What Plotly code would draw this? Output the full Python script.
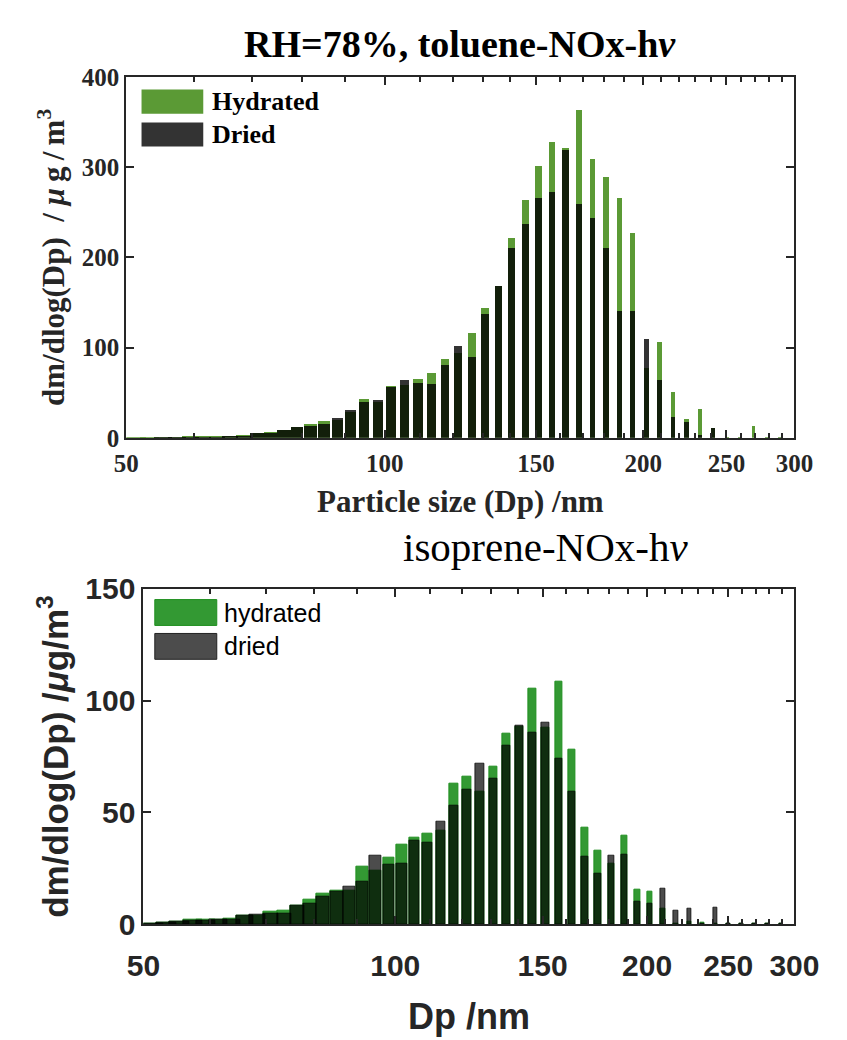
import plotly.graph_objects as go

# ---------------- data ----------------
diam_nm = [51.4, 53.3, 55.2, 57.3, 59.4, 61.5, 63.8, 66.1, 68.5, 71.0, 73.7, 76.4, 79.1,
           82.0, 85.1, 88.2, 91.4, 94.7, 98.2, 101.8, 105.5, 109.4, 113.4, 117.6, 121.9,
           126.3, 131.0, 135.8, 140.7, 145.9, 151.2, 156.8, 162.5, 168.5, 174.7, 181.1,
           187.7, 194.6, 201.7, 209.1, 216.7, 224.7, 232.9, 241.4, 250.3, 259.5, 269.0,
           278.8, 289.0]

tol_hydrated = [0.2, 0.3, 0.4, 0.6, 1.1, 1.1, 1.1, 2.1, 3.2, 5.4, 6.4, 8.6, 11.8,
                15.0, 18.2, 19.3, 29.0, 42.9, 39.7, 57.9, 59.0, 65.4, 71.8, 87.6, 94.4,
                115.8, 143.7, 168.4, 222.0, 263.8, 301.3, 328.2, 321.8, 363.5, 308.8, 289.5,
                266.0, 227.3, 77.2, 106.2, 50.4, 21.4, 32.2, 10.5, 0.3, 0.3, 12.9,
                0.3, 0.3]
tol_dried = [0.2, 0.3, 0.4, 0.6, 1.1, 1.1, 1.1, 2.1, 2.1, 5.4, 5.4, 8.6, 11.8,
             12.9, 15.0, 22.5, 31.1, 39.7, 41.8, 55.8, 64.3, 61.1, 60.0, 80.4, 101.9,
             90.1, 137.3, 168.4, 210.2, 237.0, 266.0, 272.4, 319.6, 258.7, 243.4, 210.2,
             140.5, 140.5, 109.4, 64.3, 23.6, 17.2, 3.2, 10.7, 0.3, 0.2, 0.3,
             0.2, 0.2]

iso_hydrated = [0.5, 0.9, 1.2, 1.9, 1.9, 2.3, 2.6, 3.8, 3.8, 5.8, 5.9, 8.5, 11.2,
                13.7, 15.0, 14.9, 25.7, 23.9, 29.6, 35.6, 38.6, 40.4, 41.8, 62.7, 65.9,
                59.2, 70.6, 85.3, 88.2, 105.4, 88.1, 108.4, 78.0, 43.1, 32.7, 27.1,
                39.8, 15.6, 14.6, 6.9, 0.5, 1.2, 0.7, 0.3, 0.3, 0.5, 0.5,
                0.3, 0.5]
iso_dried = [0.5, 0.9, 1.2, 1.6, 1.6, 1.9, 2.3, 3.8, 4.2, 4.8, 4.8, 8.5, 9.4,
             12.4, 14.7, 17.0, 19.2, 30.6, 26.7, 27.1, 37.5, 36.5, 45.8, 53.0, 60.0,
             71.9, 65.2, 79.7, 88.8, 85.5, 90.1, 73.9, 59.5, 30.4, 22.8, 30.6,
             31.3, 10.2, 9.1, 16.0, 5.9, 6.9, 0.3, 7.6, 0.2, 0.2, 0.2,
             0.2, 0.2]

x_ticks = [50, 100, 150, 200, 250, 300]
x_minor = [60, 70, 80, 90, 110, 120, 130, 140, 160, 170, 180, 190,
           210, 220, 230, 240, 260, 270, 280, 290]
top_y_ticks = [0, 100, 200, 300, 400]
bot_y_ticks = [0, 50, 100, 150]

top_title = "RH=78%, toluene-NOx-h<i>ν</i>"
bot_title = "isoprene-NOx-h<i>ν</i>"
top_xtitle = "Particle size (Dp) /nm"
bot_xtitle = "Dp /nm"
top_ytitle = "dm/dlog(Dp)\u00a0\u00a0/\u00a0<i>μ</i>\u2009g\u2009/\u2009m<sup>3</sup>"
bot_ytitle = "dm/dlog(Dp) /<i>μ</i>g/m<sup>3</sup>"
top_labels = ["Hydrated", "Dried"]
bot_labels = ["hydrated", "dried"]

# ---------------- style ----------------
W, H = 847, 1040
SERIF = "Liberation Serif"
SANS = "Liberation Sans"
AX = "#262626"
TOP_GREEN = "#5b9a35"
TOP_DRY = "rgba(0,0,0,0.8)"
BOT_GREEN = "#339933"
BOT_DRY = "rgba(0,0,0,0.7)"

top_px = (115, 818, 62, 435)   # left, right, top, bottom
bot_px = (133, 818, 591, 938)


def dom(px):
    l, r, t, b = px
    return [l / W, r / W], [1 - b / H, 1 - t / H]


tx, ty = dom(top_px)
bx, by = dom(bot_px)

fig = go.Figure()

fig.add_trace(go.Bar(x=diam_nm, y=tol_hydrated, name=top_labels[0], width=2.7,
                     marker=dict(color=TOP_GREEN, line=dict(width=0)),
                     xaxis="x", yaxis="y", showlegend=False))
fig.add_trace(go.Bar(x=diam_nm, y=tol_dried, name=top_labels[1], width=2.7,
                     marker=dict(color=TOP_DRY, line=dict(width=0)),
                     xaxis="x", yaxis="y", showlegend=False))
fig.add_trace(go.Bar(x=diam_nm, y=iso_hydrated, name=bot_labels[0], width=3.0,
                     marker=dict(color=BOT_GREEN, line=dict(width=1, color="#1f8f1f")),
                     xaxis="x2", yaxis="y2", showlegend=False))
fig.add_trace(go.Bar(x=diam_nm, y=iso_dried, name=bot_labels[1], width=3.0,
                     marker=dict(color=BOT_DRY, line=dict(width=1, color="rgba(0,0,0,0.75)")),
                     xaxis="x2", yaxis="y2", showlegend=False))


def xaxis(domain, anchor, font, size, title, tsize, standoff, lstand):
    return dict(type="log", range=[1.69897, 2.4771], domain=domain, anchor=anchor,
                tickvals=x_ticks, ticktext=[str(v) for v in x_ticks],
                ticks="inside", ticklen=8, tickwidth=2, tickcolor=AX,
                showline=True, linewidth=2, linecolor=AX, mirror="ticks",
                showgrid=False, zeroline=False, ticklabelstandoff=lstand,
                minor=dict(tickvals=x_minor, ticks="inside", ticklen=5, tickwidth=2,
                           tickcolor=AX, showgrid=False),
                tickfont=dict(family=font, size=size, color="#262626", weight="bold"),
                title=dict(text=title, font=dict(family=font, size=tsize, color="#262626",
                                                 weight="bold"),
                           standoff=standoff))


def yaxis(domain, anchor, rng, tv, font, size, title, tsize, standoff):
    return dict(range=rng, domain=domain, anchor=anchor, tickvals=tv,
                ticks="inside", ticklen=8, tickwidth=2, tickcolor=AX,
                showline=True, linewidth=2, linecolor=AX, mirror="ticks",
                showgrid=False, zeroline=False,
                tickfont=dict(family=font, size=size, color="#262626", weight="bold"),
                title=dict(text=title, font=dict(family=font, size=tsize, color="#262626",
                                                 weight="bold"),
                           standoff=standoff))


fig.update_layout(
    width=W, height=H, margin=dict(l=0, r=0, t=0, b=0),
    paper_bgcolor="white", plot_bgcolor="white",
    barmode="overlay", bargap=0,
    xaxis=xaxis(tx, "y", SERIF, 25, top_xtitle, 31, 15, 2),
    yaxis=yaxis(ty, "x", [0, 400], top_y_ticks, SERIF, 25, top_ytitle, 31, 8),
    xaxis2=xaxis(bx, "y2", SANS, 30, bot_xtitle, 36, 22, 14),
    yaxis2=yaxis(by, "x2", [0, 150], bot_y_ticks, SANS, 30, bot_ytitle, 35, 6),
)

ann = []
# titles
ann.append(dict(text=top_title, x=466 / W, y=1 - 28 / H, xref="paper", yref="paper",
                showarrow=False, font=dict(family=SERIF, size=38, color="black", weight="bold"),
                xanchor="center", yanchor="middle"))
ann.append(dict(text=bot_title, x=556 / W, y=1 - 548 / H, xref="paper", yref="paper",
                showarrow=False, font=dict(family=SERIF, size=41, color="black"),
                xanchor="center", yanchor="middle"))

shapes = []
# top legend (drawn in the axis-domain frame)
for i, (lab, col) in enumerate(zip(top_labels, [TOP_GREEN, TOP_DRY])):
    y0 = [0.898, 0.807][i]
    shapes.append(dict(type="rect", xref="x domain", yref="y domain",
                       x0=0.0228, x1=0.1152, y0=y0, y1=y0 + 0.067,
                       fillcolor=col, line=dict(width=0)))
    ann.append(dict(text=lab, xref="x domain", yref="y domain",
                    x=0.125, y=y0 + 0.0335, xanchor="left", yanchor="middle", showarrow=False,
                    font=dict(family=SERIF, size=26, color="black", weight="bold")))
# bottom legend
for i, (lab, col, lc) in enumerate(zip(bot_labels, [BOT_GREEN, BOT_DRY],
                                       ["#1f8f1f", "#222222"])):
    y0 = [0.8905, 0.7896][i]
    shapes.append(dict(type="rect", xref="x2 domain", yref="y2 domain",
                       x0=0.0175, x1=0.1127, y0=y0, y1=y0 + 0.077,
                       fillcolor=col, line=dict(width=1, color=lc)))
    ann.append(dict(text=lab, xref="x2 domain", yref="y2 domain",
                    x=0.1212, y=y0 + 0.0385, xanchor="left", yanchor="middle", showarrow=False,
                    font=dict(family=SANS, size=25, color="black")))

fig.update_layout(annotations=ann, shapes=shapes)
fig.write_html("out.html")
